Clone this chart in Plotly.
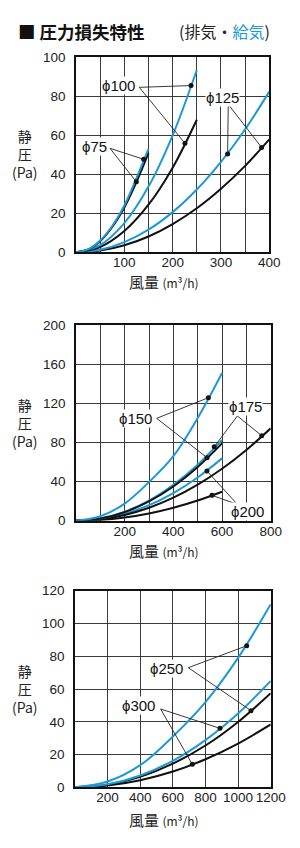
import plotly.graph_objects as go

BLUE = "#1d9ad6"
BLACK = "#111111"
GRID = "#3a3a3a"
NUMF = "Liberation Sans, Arial, sans-serif"
CJKF = "Noto Sans CJK JP, sans-serif"

# ---------------- Chart 1 data ----------------
q1_75 = [0, 25, 50, 75, 100, 125, 150]
p1_75_sup = [0, 1.5, 6, 13.5, 24, 38, 53]
p1_75_exh = [0, 1.4, 5.7, 13, 23, 36, 51]
q1_100 = [0, 50, 100, 150, 200, 250]
p1_100_sup = [0, 3.7, 15, 33.7, 60, 93.5]
p1_100_exh = [0, 2.7, 10.9, 24.4, 43.4, 68]
q1_125 = [0, 50, 100, 150, 200, 250, 300, 350, 400]
p1_125_sup = [0, 1.3, 5.2, 11.6, 20.6, 32.2, 46.4, 63.1, 82.4]
p1_125_exh = [0, 0.9, 3.6, 8.1, 14.5, 22.6, 32.6, 44.3, 57.9]
dot1_q = [140, 124.8, 238, 225.5, 313.8, 384]
dot1_p = [47.7, 36.2, 85.5, 55.9, 50.4, 53.8]
lab1_text = ["ϕ75", "ϕ100", "ϕ125"]
lab1_q = [37.9, 87.5, 303.6]
lab1_p = [54.2, 85.4, 79.3]
lead1_q = [70.4, 131, 315]
lead1_p = [53.3, 84.6, 75.9]
x1_ticks = [0, 50, 100, 150, 200, 250, 300, 350, 400]
x1_text = ["", "", "100", "", "200", "", "300", "", "400"]
y1_ticks = [0, 20, 40, 60, 80, 100]

# ---------------- Chart 2 data ----------------
q2_600 = [0, 100, 200, 300, 400, 500, 600]
q2_800 = [0, 100, 200, 300, 400, 500, 600, 700, 800]
p2_150_sup = [0, 4.5, 17.5, 39.5, 66, 105, 151]
p2_150_exh = [0, 2.2, 8.8, 19.7, 35, 54.8, 79]
p2_175_sup = [0, 2.3, 9.2, 20.6, 36.7, 57.3, 82.5]
p2_175_exh = [0, 1.5, 5.9, 13.3, 23.6, 36.9, 53.1, 72.3, 94.4]
p2_200_sup = [0, 1.8, 7.1, 15.9, 28.3, 44.2, 63.7]
p2_200_exh = [0, 0.8, 3.3, 7.4, 13.2, 20.6, 29.6]
dot2_q = [543.8, 538.4, 568, 763, 538, 559]
dot2_p = [125.7, 64.4, 75.6, 86.9, 50.8, 25.9]
lab2_text = ["ϕ150", "ϕ175", "ϕ200"]
lab2_q = [242.5, 694.5, 705]
lab2_p = [104.6, 117.2, 9.9]
lead2_q = [331.5, 663, 663]
lead2_p = [104.6, 107, 16.7]
x2_ticks = [0, 100, 200, 300, 400, 500, 600, 700, 800]
x2_text = ["", "", "200", "", "400", "", "600", "", "800"]
y2_ticks = [0, 40, 80, 120, 160, 200]

# ---------------- Chart 3 data ----------------
q3 = [0, 200, 400, 600, 800, 1000, 1200]
p3_250_sup = [0, 3.5, 13.5, 31, 52, 79, 111.7]
p3_250_exh = [0, 1.6, 6.4, 14.4, 25.5, 39.9, 57.4]
p3_300_sup = [0, 1.8, 7.2, 16.2, 28.8, 45, 64.9]
p3_300_exh = [0, 1.1, 4.3, 9.6, 17.1, 26.7, 38.4]
dot3_q = [1052.8, 1079, 889, 719.6]
dot3_p = [86.4, 46.8, 36, 14]
lab3_text = ["ϕ250", "ϕ300"]
lab3_q = [558, 390.5]
lab3_p = [72.6, 50.2]
lead3_q = [695, 525]
lead3_p = [73, 47.8]
x3_ticks = [0, 200, 400, 600, 800, 1000, 1200]
x3_text = ["", "200", "400", "600", "800", "1000", "1200"]
y3_ticks = [0, 20, 40, 60, 80, 100, 120]

fig = go.Figure()

def curve(q, p, color, ax):
    fig.add_trace(go.Scatter(x=q, y=p, mode="lines", line=dict(color=color, width=2, shape="spline"),
                             xaxis="x" + ax, yaxis="y" + ax, showlegend=False, hoverinfo="skip"))

def dots(q, p, ax):
    fig.add_trace(go.Scatter(x=q, y=p, mode="markers", marker=dict(color=BLACK, size=5),
                             xaxis="x" + ax, yaxis="y" + ax, showlegend=False, hoverinfo="skip"))

# chart 1 (axis suffix "")
curve(q1_125, p1_125_exh, BLACK, "")
curve(q1_125, p1_125_sup, BLUE, "")
curve(q1_100, p1_100_exh, BLACK, "")
curve(q1_100, p1_100_sup, BLUE, "")
curve(q1_75, p1_75_exh, BLACK, "")
curve(q1_75, p1_75_sup, BLUE, "")
# chart 2
curve(q2_600, p2_200_exh, BLACK, "2")
curve(q2_600, p2_200_sup, BLUE, "2")
curve(q2_800, p2_175_exh, BLACK, "2")
curve(q2_600, p2_175_sup, BLUE, "2")
curve(q2_600, p2_150_exh, BLACK, "2")
curve(q2_600, p2_150_sup, BLUE, "2")
# chart 3
curve(q3, p3_300_exh, BLACK, "3")
curve(q3, p3_250_exh, BLACK, "3")
curve(q3, p3_300_sup, BLUE, "3")
curve(q3, p3_250_sup, BLUE, "3")

shapes = []
annotations = []

def labels(texts, lq, lp, sq, sp, dq, dp, ax):
    xr = "x" + ax
    yr = "y" + ax
    for i in range(len(texts)):
        for j in (2 * i, 2 * i + 1):
            shapes.append(dict(type="line", xref=xr, yref=yr, x0=sq[i], y0=sp[i], x1=dq[j], y1=dp[j],
                               line=dict(color="#222", width=0.9), layer="above"))
        annotations.append(dict(text=texts[i], x=lq[i], y=lp[i], xref=xr, yref=yr, showarrow=False,
                                font=dict(family=NUMF, size=15, color="#111"), bgcolor="white", borderpad=0))

labels(lab1_text, lab1_q, lab1_p, lead1_q, lead1_p, dot1_q, dot1_p, "")
labels(lab2_text, lab2_q, lab2_p, lead2_q, lead2_p, dot2_q, dot2_p, "2")
labels(lab3_text, lab3_q, lab3_p, lead3_q, lead3_p, dot3_q, dot3_p, "3")

dots(dot1_q, dot1_p, "")
dots(dot2_q, dot2_p, "2")
dots(dot3_q, dot3_p, "3")

H = 848.0
W = 300.0

def xax(dom, rng, tv, tt, anchor):
    return dict(domain=dom, range=rng, tickvals=tv, ticktext=tt, showgrid=True, gridcolor=GRID, gridwidth=1,
                showline=True, linecolor=BLACK, linewidth=1.5, mirror=True, zeroline=False, anchor=anchor,
                ticks="", ticklabelstandoff=-3, tickfont=dict(family=NUMF, size=13.5, color="#222"),
                fixedrange=True, automargin=False)

def yax(dom, rng, tv, anchor):
    return dict(domain=dom, range=rng, tickvals=tv, showgrid=True, gridcolor=GRID, gridwidth=1,
                showline=True, linecolor=BLACK, linewidth=1.5, mirror=True, zeroline=False, anchor=anchor,
                ticks="", ticklabelstandoff=6, tickfont=dict(family=NUMF, size=13.5, color="#222"),
                fixedrange=True, automargin=False)

fig.update_layout(
    width=300, height=848, margin=dict(l=0, r=0, t=0, b=0, autoexpand=False),
    paper_bgcolor="white", plot_bgcolor="white", showlegend=False,
    xaxis=xax([76 / W, 269.3 / W], [0, 400], x1_ticks, x1_text, "y"),
    yaxis=yax([1 - 252.3 / H, 1 - 57.3 / H], [0, 100], y1_ticks, "x"),
    xaxis2=xax([76 / W, 270.7 / W], [0, 800], x2_ticks, x2_text, "y2"),
    yaxis2=yax([1 - 520.7 / H, 1 - 325 / H], [0, 200], y2_ticks, "x2"),
    xaxis3=xax([75 / W, 270.7 / W], [0, 1200], x3_ticks, x3_text, "y3"),
    yaxis3=yax([1 - 787.3 / H, 1 - 590.7 / H], [0, 120], y3_ticks, "x3"),
)

# Title
annotations.append(dict(text="<b>■ 圧力損失特性</b>", x=16 / W, y=1 - 31 / H, xref="paper", yref="paper",
                        xanchor="left", yanchor="middle", showarrow=False,
                        font=dict(family=CJKF, size=17.5, color="#111")))
annotations.append(dict(text="(排気・<span style='color:%s'>給気</span>)" % BLUE, x=177 / W, y=1 - 31 / H,
                        xref="paper", yref="paper", xanchor="left", yanchor="middle", showarrow=False,
                        font=dict(family=CJKF, size=16, color="#222")))

# Axis titles
for ymid, xl in [(154.5, 281), (423, 550), (689, 819)]:
    annotations.append(dict(text="静<br>圧<br>(Pa)", x=25 / W, y=1 - ymid / H, xref="paper", yref="paper",
                            xanchor="center", yanchor="middle", showarrow=False,
                            font=dict(family=CJKF, size=14, color="#222")))
    annotations.append(dict(text="風量 <span style='font-size:12px'>(m³/h)</span>", x=164 / W, y=1 - xl / H,
                            xref="paper", yref="paper", xanchor="center", yanchor="middle", showarrow=False,
                            font=dict(family=CJKF, size=15, color="#222")))

fig.update_layout(shapes=shapes, annotations=annotations)
fig.write_html("out.html")
